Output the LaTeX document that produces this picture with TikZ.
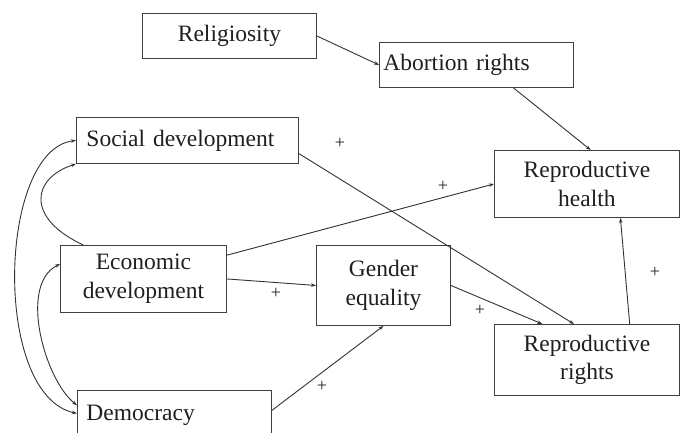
\documentclass[tikz,border=0pt]{standalone}
\usepackage{fontspec}
\setmainfont{Liberation Serif}
\usetikzlibrary{calc,arrows.meta}
\begin{document}
\begin{tikzpicture}[x=1pt,y=-1pt,
  box/.style={draw=black!75, line width=0.9pt, rectangle, anchor=north west, inner sep=0pt,
    font=\fontsize{23.5}{28.5}\selectfont, text=black!88},
  lbox/.style={box, align=left},
  cbox/.style={box, align=center},
  conn/.style={draw=black!80, line width=0.9pt, -{Stealth[length=5pt,width=3.6pt]}},
  both/.style={conn, {Stealth[length=5pt,width=3.6pt]}-{Stealth[length=5pt,width=3.6pt]}},
  plus/.style={font=\fontsize{18}{18}\selectfont, text=black!88, inner sep=0pt}]
\useasboundingbox (0,0) rectangle (680,432);
\clip (0,0) rectangle (680,432);

\node[cbox, minimum width=174pt, minimum height=45pt] (rel) at (142,13) {Religiosity};
\node[lbox, minimum width=194pt, minimum height=45pt, text width=186pt, inner xsep=4pt] (abr) at (379,42) {Abortion rights};
\node[lbox, minimum width=222pt, minimum height=46pt, text width=202pt, inner xsep=10pt] (soc) at (76,117) {Social development};
\node[cbox, minimum width=166pt, minimum height=67pt] (eco) at (60,245) {Economic\\development};
\node[lbox, minimum width=194pt, minimum height=50pt, text width=176pt, inner xsep=9pt] (dem) at (77,390) {Democracy};
\node[cbox, minimum width=134pt, minimum height=80pt] (ge) at (316,245) {Gender\\equality};
\node[cbox, minimum width=185pt, minimum height=67pt] (rh) at (494,150) {Reproductive\\health};
\node[cbox, minimum width=185pt, minimum height=71pt] (rr) at (494,324) {Reproductive\\rights};

% straight connectors
\draw[conn] (rel.east) -- (abr.west);
\draw[conn] ($(abr.south west)!0.69!(abr.south east)$) -- ($(rh.north west)!0.52!(rh.north east)$);
\draw[conn] ($(soc.north east)!0.78!(soc.south east)$) -- ($(rr.north west)!0.43!(rr.north east)$);
\draw[conn] ($(eco.north east)!0.15!(eco.south east)$) -- (rh.west);
\draw[conn] (eco.east) -- (ge.west);
\draw[conn] (ge.east) -- ($(rr.north west)!0.26!(rr.north east)$);
\draw[conn] ($(dem.north east)!0.4!(dem.south east)$) -- (ge.south);
\draw[conn] ($(rr.north west)!0.73!(rr.north east)$) -- ($(rh.south west)!0.68!(rh.south east)$);

% curved connectors
\draw[conn] ($(eco.north west)!0.14!(eco.north east)$) .. controls (25,218) and (32,178) .. (soc.south west);
\draw[both] (soc.west) .. controls (-2,150) and (-8,395) .. ($(dem.north west)!0.46!(dem.south west)$);
\draw[both] ($(eco.north west)!0.28!(eco.south west)$) .. controls (18,285) and (45,380) .. ($(dem.north west)!0.3!(dem.south west)$);

% plus signs
\node[plus] (p1) at (340,143) {+};
\node[plus] (p2) at (443,186) {+};
\node[plus] (p3) at (276,293) {+};
\node[plus] (p4) at (480,310) {+};
\node[plus] (p5) at (322,386) {+};
\node[plus] (p6) at (655,272) {+};
\end{tikzpicture}
\end{document}
